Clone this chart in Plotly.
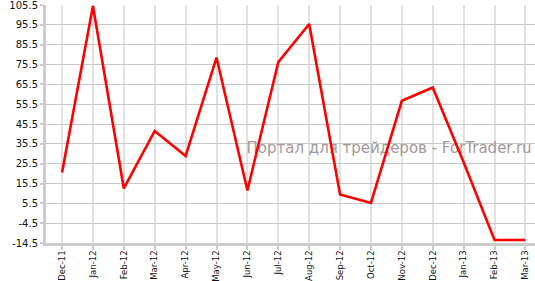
import plotly.graph_objects as go

categories = ["Dec-11", "Jan-12", "Feb-12", "Mar-12", "Apr-12", "May-12", "Jun-12",
              "Jul-12", "Aug-12", "Sep-12", "Oct-12", "Nov-12", "Dec-12", "Jan-13",
              "Feb-13", "Mar-13"]
values = [21, 105, 13, 42, 29.4, 79, 12, 76.7, 95.9, 10, 5.7, 57.2, 63.9, 26.2, -13, -13]
y_ticks = [-14.5, -4.5, 5.5, 15.5, 25.5, 35.5, 45.5, 55.5, 65.5, 75.5, 85.5, 95.5, 105.5]
y_tick_labels = ["-14.5", "-4.5", "5.5", "15.5", "25.5", "35.5", "45.5", "55.5",
                 "65.5", "75.5", "85.5", "95.5", "105.5"]
watermark = "Портал для трейдеров - ForTrader.ru"

fig = go.Figure()
# watermark drawn beneath the line
fig.add_trace(go.Scatter(
    x=[15.2], y=[32.6], mode="text", text=[watermark], textposition="middle left",
    textfont=dict(family="DejaVu Sans", size=15, color="#a39999"),
    hoverinfo="skip", cliponaxis=False,
))
fig.add_trace(go.Scatter(
    x=list(range(len(categories))), y=values, mode="lines",
    line=dict(color="#ff0000", width=2.6), hoverinfo="skip", cliponaxis=False,
))

fig.update_layout(
    width=535, height=281,
    margin=dict(l=46, r=0, t=5, b=38),
    paper_bgcolor="white", plot_bgcolor="white",
    showlegend=False,
    font=dict(family="DejaVu Sans", size=10, color="#111111"),
    xaxis=dict(
        range=[-0.52, 15.31], automargin=False, ticklabeloverflow="allow",
        tickmode="array", tickvals=list(range(len(categories))), ticktext=categories,
        tickangle=-90, ticklabelstandoff=-3,
        showgrid=True, gridcolor="#e2e2e2", gridwidth=2,
        zeroline=False,
        showline=True, linecolor="#cccccc", linewidth=3,
        ticks="outside", ticklen=4, tickcolor="#cccccc", tickwidth=2,
        tickfont=dict(family="DejaVu Sans", size=8.5, color="#111111"),
    ),
    yaxis=dict(
        range=[-14.5, 105.5], automargin=False, ticklabeloverflow="allow",
        tickmode="array", tickvals=y_ticks, ticktext=y_tick_labels,
        showgrid=True, gridcolor="#c8c8c8", gridwidth=1,
        zeroline=False,
        showline=True, linecolor="#cccccc", linewidth=3,
        ticks="outside", ticklen=3, tickcolor="#cccccc", tickwidth=2,
        tickfont=dict(family="DejaVu Sans", size=10, color="#111111"),
    ),
)

fig.write_html("out.html")
